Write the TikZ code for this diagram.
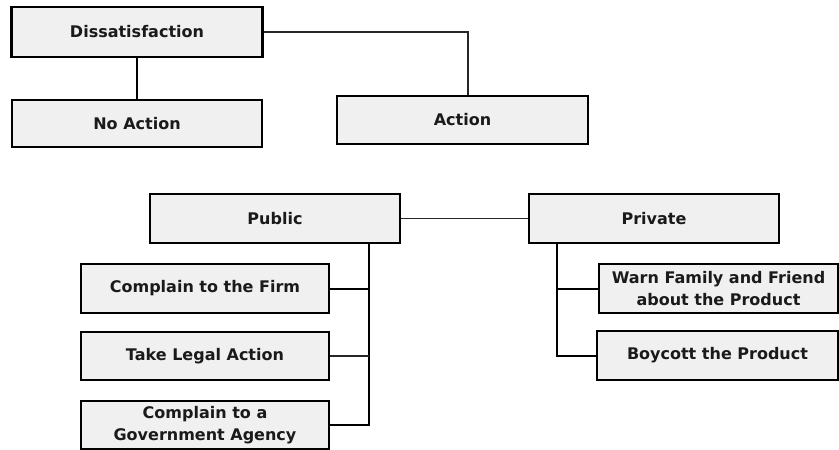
\documentclass[tikz,border=0pt]{standalone}
\usepackage{fontspec}
\setmainfont{DejaVu Sans}
\begin{document}
\begin{tikzpicture}[x=1pt,y=-1pt,
  box/.style={draw=black, line width=2.2pt, fill=boxgray, rectangle, inner sep=2pt,
    align=center, text=txtblack, font=\bfseries\fontsize{16}{22.5}\selectfont},
  thinline/.style={line width=1.2pt, draw=black!85},
  thickline/.style={line width=2pt, draw=black}]
\definecolor{boxgray}{HTML}{F0F0F0}
\definecolor{txtblack}{HTML}{1A1A1A}
\useasboundingbox (0,0) rectangle (839,450);
\node[box, minimum width=251pt, minimum height=50pt] (dis) at (137,32) {Dissatisfaction};
\node[box, minimum width=250pt, minimum height=47pt] (noact) at (137,123.5) {No Action};
\node[box, minimum width=251pt, minimum height=48pt] (act) at (462.5,120) {Action};
\node[box, minimum width=250pt, minimum height=49pt] (pub) at (275,218.5) {Public};
\node[box, minimum width=250pt, minimum height=49pt] (priv) at (654,218.5) {Private};
\node[box, minimum width=248pt, minimum height=49pt] (firm) at (205,288.5) {Complain to the Firm};
\node[box, minimum width=248pt, minimum height=48pt] (legal) at (205,356) {Take Legal Action};
\node[box, minimum width=248pt, minimum height=48pt] (gov) at (205,425) {Complain to a\\Government Agency};
\node[box, minimum width=239pt, minimum height=49pt] (warn) at (718.5,288.5) {Warn Family and Friend\\about the Product};
\node[box, minimum width=241pt, minimum height=49pt] (boy) at (717.5,355.5) {Boycott the Product};
% connectors
\draw[thickline] (dis.south) -- (noact.north);
\draw[thinline] (dis.east) -| ([xshift=5.5pt]act.north);
\draw[thinline] (pub.east) -- (priv.west);
\coordinate (ptrunk) at ([xshift=94pt]pub.south);
\coordinate (vtrunk) at ([xshift=-97pt]priv.south);
\draw[thickline] (ptrunk) |- (gov.east);
\draw[thickline] (firm.east) -- (firm.east -| ptrunk);
\draw[thinline] (legal.east) -- (legal.east -| ptrunk);
\draw[thickline] (vtrunk) |- (boy.west);
\draw[thickline] (warn.west) -- (warn.west -| vtrunk);
\end{tikzpicture}
\end{document}
